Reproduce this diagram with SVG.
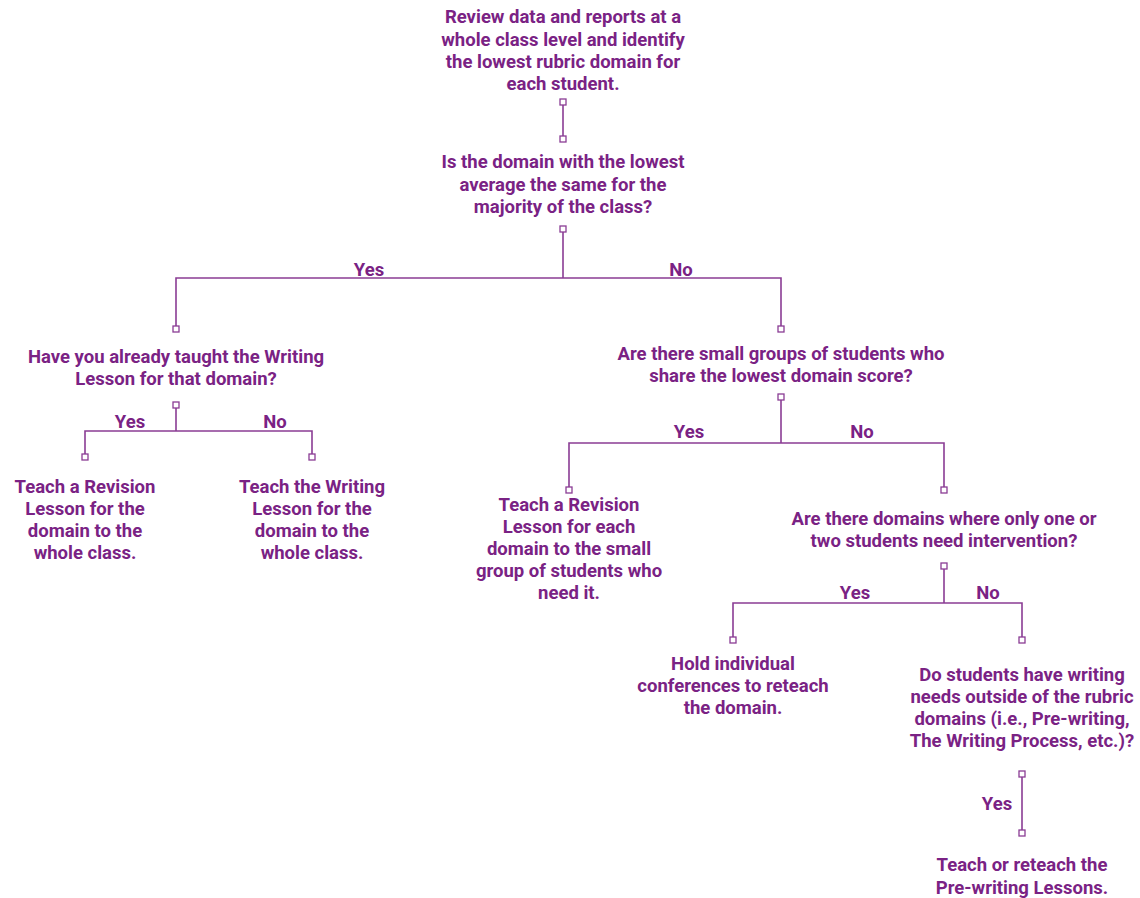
<svg xmlns="http://www.w3.org/2000/svg" width="1140" height="898" viewBox="0 0 1140 898">
<style>
text{font-family:Roboto,"Liberation Sans",sans-serif;font-weight:700;font-size:18.5px;fill:#7a2284;text-anchor:middle}
.c line,.c polyline{stroke:#8a3c94;stroke-width:1.6;fill:none}
.c rect{fill:#fff;stroke:#8a3c94;stroke-width:1.3}
</style>
<rect width="1140" height="898" fill="#fff"/>
<g class="c" id="connectors">
<line x1="563" y1="105" x2="563" y2="136"/>
<polyline points="563,232 563,278"/>
<polyline points="176,326 176,278 781,278 781,326"/>
<polyline points="176,408 176,431"/>
<polyline points="85,454 85,431 312,431 312,454"/>
<polyline points="781,400 781,443"/>
<polyline points="569,487 569,443 944,443 944,487"/>
<polyline points="944,569 944,603"/>
<polyline points="733,637 733,603 1022,603 1022,637"/>
<line x1="1022" y1="777" x2="1022" y2="830"/>
<rect x="560" y="99" width="6" height="6"/>
<rect x="560" y="136" width="6" height="6"/>
<rect x="560" y="226" width="6" height="6"/>
<rect x="173" y="326" width="6" height="6"/>
<rect x="778" y="326" width="6" height="6"/>
<rect x="173" y="402" width="6" height="6"/>
<rect x="82" y="454" width="6" height="6"/>
<rect x="309" y="454" width="6" height="6"/>
<rect x="778" y="394" width="6" height="6"/>
<rect x="566" y="487" width="6" height="6"/>
<rect x="941" y="487" width="6" height="6"/>
<rect x="941" y="563" width="6" height="6"/>
<rect x="730" y="637" width="6" height="6"/>
<rect x="1019" y="637" width="6" height="6"/>
<rect x="1019" y="771" width="6" height="6"/>
<rect x="1019" y="830" width="6" height="6"/>
<text x="369" y="276">Yes</text>
<text x="681" y="276">No</text>
<text x="130" y="428">Yes</text>
<text x="275" y="428">No</text>
<text x="689" y="438">Yes</text>
<text x="862" y="438">No</text>
<text x="855" y="599">Yes</text>
<text x="988" y="599">No</text>
<text x="997" y="810">Yes</text>
</g>
<g id="n1"><text x="563" y="23">Review data and reports at a</text><text x="563" y="46">whole class level and identify</text><text x="563" y="68">the lowest rubric domain for</text><text x="563" y="90">each student.</text></g>
<g id="n2"><text x="563" y="168">Is the domain with the lowest</text><text x="563" y="191">average the same for the</text><text x="563" y="213">majority of the class?</text></g>
<g id="n3"><text x="176" y="363">Have you already taught the Writing</text><text x="176" y="385">Lesson for that domain?</text></g>
<g id="n4"><text x="85" y="493">Teach a Revision</text><text x="85" y="515">Lesson for the</text><text x="85" y="537">domain to the</text><text x="85" y="559">whole class.</text></g>
<g id="n5"><text x="312" y="493">Teach the Writing</text><text x="312" y="515">Lesson for the</text><text x="312" y="537">domain to the</text><text x="312" y="559">whole class.</text></g>
<g id="n6"><text x="781" y="360">Are there small groups of students who</text><text x="781" y="382">share the lowest domain score?</text></g>
<g id="n7"><text x="569" y="511">Teach a Revision</text><text x="569" y="533">Lesson for each</text><text x="569" y="555">domain to the small</text><text x="569" y="577">group of students who</text><text x="569" y="599">need it.</text></g>
<g id="n8"><text x="944" y="525">Are there domains where only one or</text><text x="944" y="547">two students need intervention?</text></g>
<g id="n9"><text x="733" y="670">Hold individual</text><text x="733" y="692">conferences to reteach</text><text x="733" y="714">the domain.</text></g>
<g id="n10"><text x="1022" y="681">Do students have writing</text><text x="1022" y="703">needs outside of the rubric</text><text x="1022" y="725">domains (i.e., Pre-writing,</text><text x="1022" y="747">The Writing Process, etc.)?</text></g>
<g id="n11"><text x="1022" y="871">Teach or reteach the</text><text x="1022" y="894">Pre-writing Lessons.</text></g>
</svg>
